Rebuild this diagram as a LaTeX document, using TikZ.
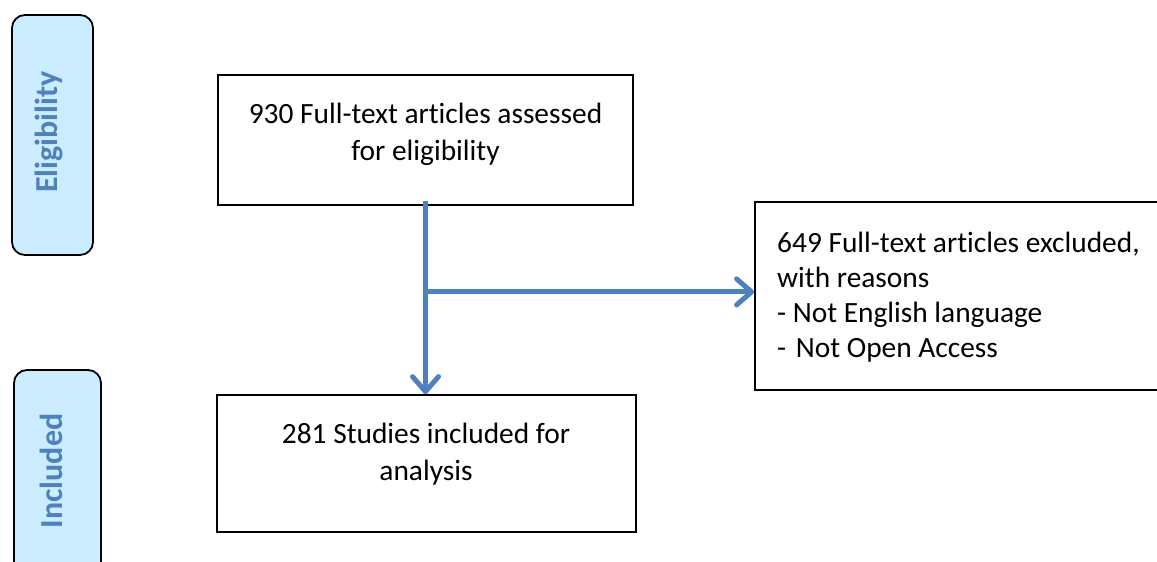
\documentclass[tikz,border=0pt]{standalone}
\usepackage{fontspec}
\setmainfont{Carlito}[Ligatures=NoCommon]
\usetikzlibrary{arrows.meta}

\definecolor{flowblue}{RGB}{79,129,189}
\definecolor{stagefill}{RGB}{204,236,255}

% stacked lines with a fixed baseline distance; the baseline is that of the first line
\newcommand{\ctrlines}[2]{\vtop{\baselineskip=#1\halign{\hfil##\hfil\cr#2\crcr}}}
\newcommand{\leftlines}[2]{\vtop{\baselineskip=#1\halign{##\hfil\cr#2\crcr}}}

\begin{document}
\begin{tikzpicture}[x=1pt,y=-1pt,
  stagebox/.style={draw=black, line width=1.8pt, fill=stagefill, rounded corners=13pt, inner sep=0pt},
  stagelabel/.style={font=\fontsize{32pt}{38pt}\selectfont\bfseries, text=flowblue, rotate=90, inner sep=0pt},
  flowbox/.style={draw=black, line width=1.8pt, inner sep=0pt},
  flowtext/.style={font=\fontsize{29.4pt}{37pt}\selectfont, inner sep=0pt},
  flow/.style={draw=flowblue, line width=5pt,
    -{Straight Barb[length=15pt,width=26pt,line cap=round,line join=round]}}
]
\useasboundingbox (0,0) rectangle (1157,562);
\clip (0,0) rectangle (1157,562);

% stage tabs on the left
\node[stagebox, minimum width=81pt, minimum height=240pt] (elig) at (52.5,135) {};
\node[stagelabel] (eligtext) at (48.5,132) {Eligibility};
\node[stagebox, minimum width=87pt, minimum height=240pt] (incl) at (57.5,490) {};
\node[stagelabel] (incltext) at (51,471) {Included};

% flow boxes
\node[flowbox, minimum width=415pt, minimum height=130pt] (top) at (425.5,140) {};
\node[flowbox, minimum width=419pt, minimum height=137pt] (bot) at (426.5,463.5) {};
\node[flowbox, minimum width=420pt, minimum height=188pt] (excl) at (965,296) {};

% box texts
\node[flowtext, anchor=base] (toptext) at (425.5,123)
  {\ctrlines{37pt}{930 Full-text articles assessed\cr for eligibility}};
\node[flowtext, anchor=base] (bottext) at (426,443)
  {\ctrlines{37pt}{281 Studies included for\cr analysis}};
\node[flowtext, anchor=base west] (excltext) at (777,252)
  {\leftlines{35pt}{649 Full-text articles excluded,\cr with reasons\cr - Not English language\cr - \kern3pt Not Open Access}};

% connectors
\coordinate (fork) at ([yshift=-86pt]top.south);
\draw[flow] ([yshift=5pt]top.south) -- (top.south |- bot.north);
\draw[flow] ([xshift=2.5pt]fork) -- (fork -| excl.west);
\end{tikzpicture}
\end{document}
